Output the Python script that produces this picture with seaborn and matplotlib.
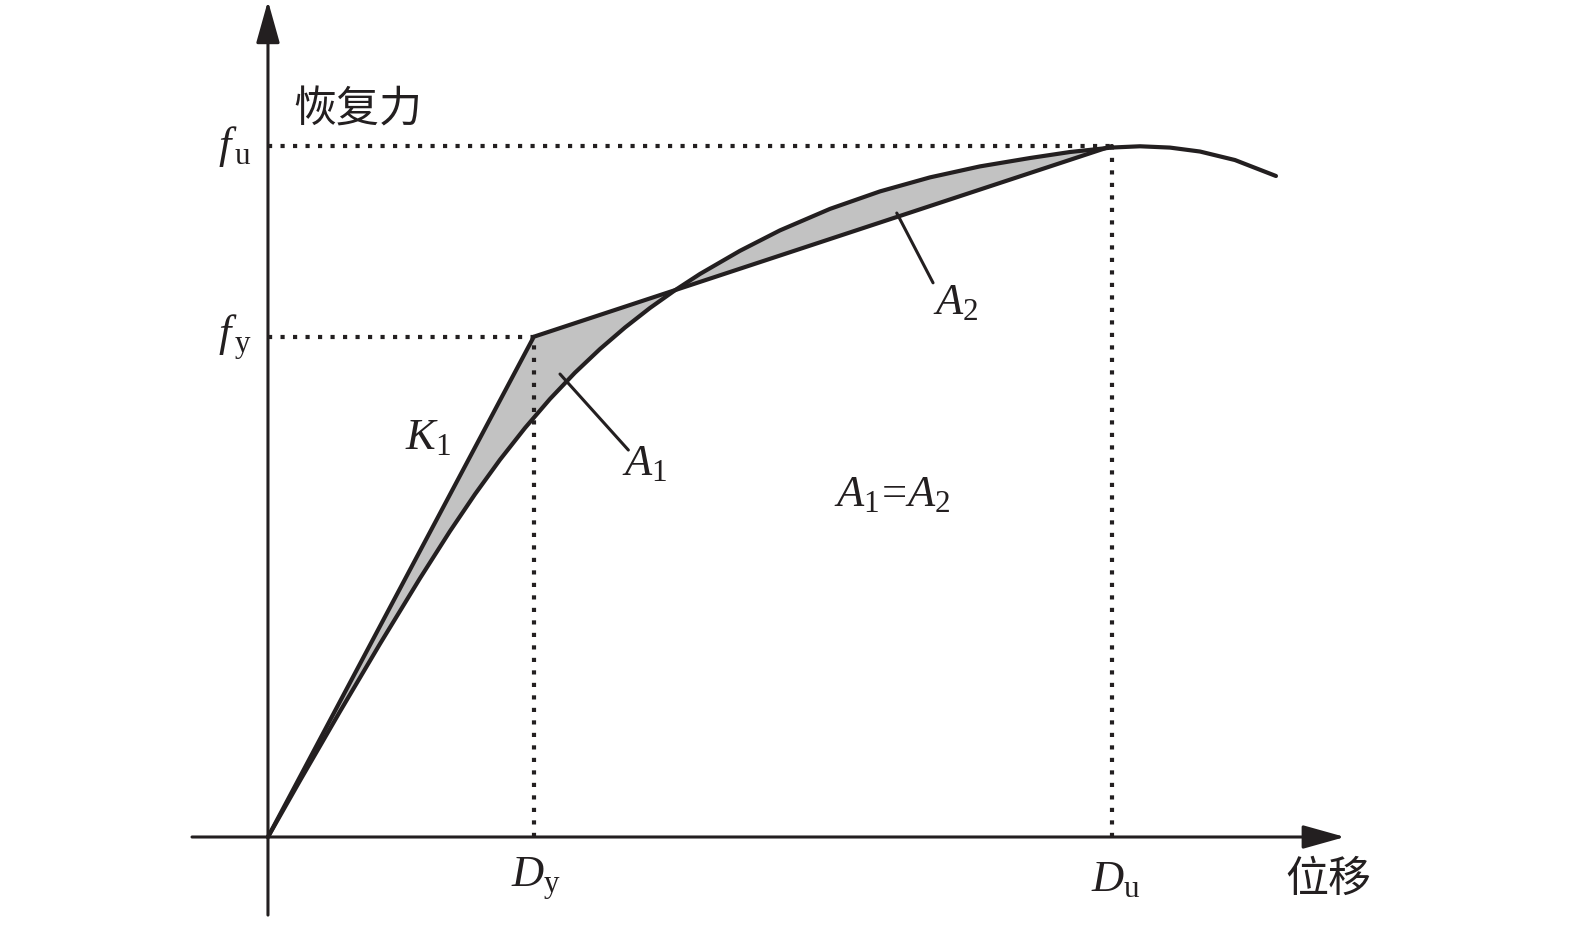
import numpy as np
import pandas as pd
import matplotlib
matplotlib.use('Agg')
import matplotlib.pyplot as plt
import seaborn as sns

# restoring force curve (displacement, force), Du = fu = 100
disp = [0, 3.79, 8.53, 13.27, 18.01, 21.56, 24.53, 27.49, 30.45, 33.41, 36.37,
        39.34, 42.30, 45.26, 48.22, 51.18, 55.92, 60.66, 66.59, 72.51, 78.44,
        84.36, 90.28, 95.02, 100.0, 103.32, 106.87, 110.43, 114.57, 119.43]
force = [0, 8.15, 18.16, 27.95, 37.44, 44.25, 49.61, 54.60, 59.19, 63.39, 67.19,
         70.62, 73.73, 76.56, 79.12, 81.48, 84.83, 87.79, 90.90, 93.43, 95.46,
         97.05, 98.26, 99.13, 99.78, 99.96, 99.77, 99.20, 97.97, 95.66]

# equivalent bilinear model
Dy, fy = 31.5, 72.4
Du, fu = 100.0, 100.0
bil_disp = [0, Dy, Du]
bil_force = [0, fy, fu]

curve = pd.DataFrame({'disp': disp, 'force': force})
bilinear = pd.DataFrame({'disp': bil_disp, 'force': bil_force})

sns.set_theme(style='white')
plt.rcParams['font.family'] = ['Noto Sans CJK SC', 'DejaVu Sans']
plt.rcParams['mathtext.fontset'] = 'custom'
plt.rcParams['mathtext.it'] = 'Liberation Serif:italic'
plt.rcParams['mathtext.rm'] = 'Liberation Serif'

ink = '#231f20'
fig = plt.figure(figsize=(15.75, 9.26), dpi=100)
ax = fig.add_axes([0, 0, 1, 1])

# shaded areas A1 and A2 between curve and bilinear line
up_to_du = curve[curve['disp'] <= Du]
poly_x = bil_disp + up_to_du['disp'][::-1].tolist()
poly_y = bil_force + up_to_du['force'][::-1].tolist()
ax.fill(poly_x, poly_y, color='#c2c2c2', lw=0, zorder=1)

# dotted guides
dot = dict(color=ink, lw=3.0, ls=(0, (1.0, 2.0)), dash_capstyle='butt', zorder=2)
ax.plot([0, Du], [fu, fu], **dot)
ax.plot([0, Dy], [fy, fy], **dot)
ax.plot([Dy, Dy], [0, fy], **dot)
ax.plot([Du, Du], [0, fu], **dot)

sns.lineplot(data=curve, x='disp', y='force', sort=False, estimator=None,
             color=ink, lw=3.0, ax=ax, zorder=3)
sns.lineplot(data=bilinear, x='disp', y='force', sort=False, estimator=None,
             color=ink, lw=3.0, ax=ax, zorder=3)
ax.set_xlim(-31.75, 154.86)
ax.set_ylim(-12.88, 121.13)
ax.axis('off')

# axes with arrows
arrow = dict(arrowstyle='-|>,head_length=1.0,head_width=0.28', color=ink,
             lw=2.2, mutation_scale=26, shrinkA=0, shrinkB=0)
ax.annotate('', xy=(127.6, 0), xytext=(-9.0, 0), arrowprops=arrow, zorder=4)
ax.annotate('', xy=(0, 121.0), xytext=(0, -11.3), arrowprops=arrow, zorder=4)

# leader lines
ax.plot([34.6, 42.7], [67.0, 56.0], color=ink, lw=2.2, zorder=4)
ax.plot([74.5, 78.8], [90.3, 80.2], color=ink, lw=2.2, zorder=4)

# labels
cjk = 31
mt = 32
ax.text(10.7, 105.2, '恢复力', fontsize=cjk, ha='center', va='center', color=ink)
ax.text(125.6, -6.2, '位移', fontsize=cjk, ha='center', va='center', color=ink)
ax.text(-2.0, 100.0, r'$f_{\,\mathrm{u}}$', fontsize=mt, ha='right', va='center', color=ink)
ax.text(-2.0, 72.4, r'$f_{\,\mathrm{y}}$', fontsize=mt, ha='right', va='center', color=ink)
ax.text(Dy + 0.2, -6.0, r'$D_{\mathrm{y}}$', fontsize=mt, ha='center', va='center', color=ink)
ax.text(Du + 0.4, -6.0, r'$D_{\mathrm{u}}$', fontsize=mt, ha='center', va='center', color=ink)
ax.text(18.9, 58.0, r'$K_{\mathrm{1}}$', fontsize=mt, ha='center', va='center', color=ink)
ax.text(44.6, 54.2, r'$A_{\mathrm{1}}$', fontsize=mt, ha='center', va='center', color=ink)
ax.text(81.5, 77.6, r'$A_{\mathrm{2}}$', fontsize=mt, ha='center', va='center', color=ink)
ax.text(74.0, 49.8, r'$A_{\mathrm{1}}\!=\!A_{\mathrm{2}}$', fontsize=mt, ha='center',
        va='center', color=ink)

fig.savefig('out.png', dpi=100)
